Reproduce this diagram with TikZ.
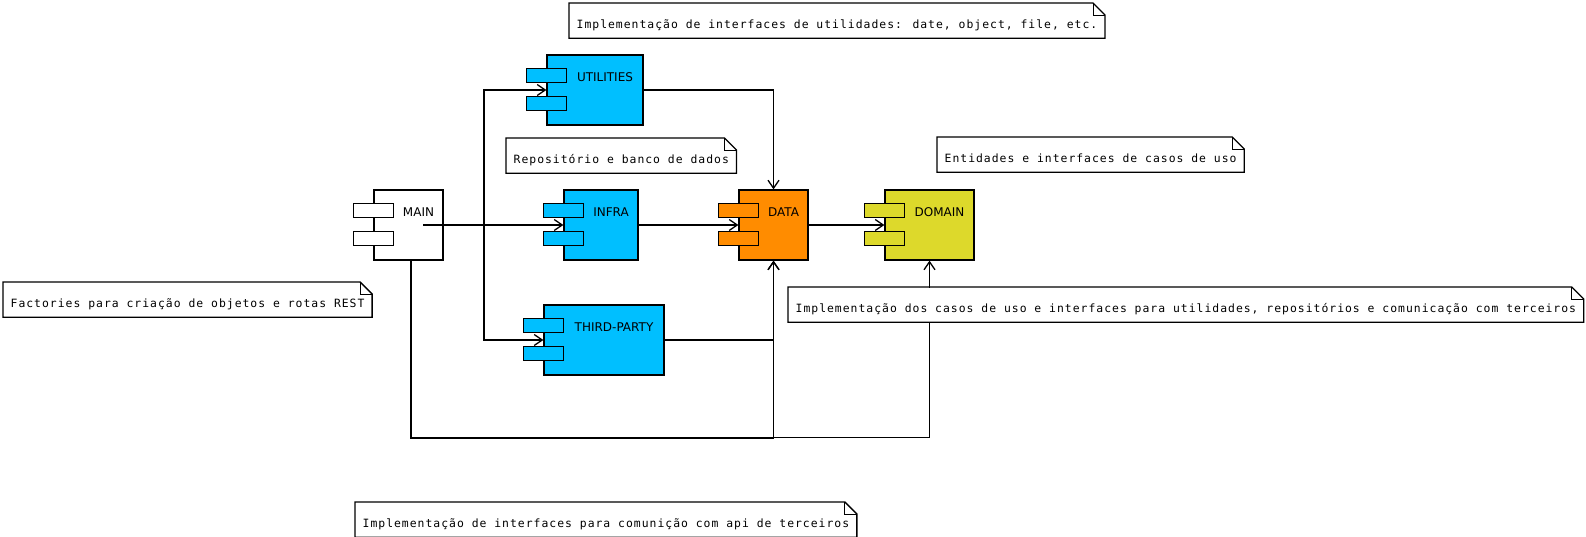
\documentclass[tikz,border=0pt]{standalone}
\usepackage{fontspec}
\setsansfont{DejaVu Sans}
\newfontfamily\notefont[LetterSpace=8.8]{DejaVu Sans Mono}
\usetikzlibrary{arrows.meta,calc}
\definecolor{compblue}{HTML}{00BFFF}
\definecolor{comporange}{HTML}{FF8C00}
\definecolor{compyellow}{HTML}{DDD92B}

\begin{document}
\begin{tikzpicture}[x=1pt,y=-1pt,line width=1.3pt,
            comp node/.style={draw,minimum height=70pt,inner sep=0pt},
            link/.style={-{Straight Barb[length=8pt,width=11pt]}},
            note node/.style={fill=white,anchor=north west,minimum height=34pt,inner xsep=7pt,
                text height=15pt,text depth=0pt,font=\notefont\fontsize{11.4}{13}\selectfont}]

        \useasboundingbox (0,0) rectangle (1586,537);

        % Define vertices
        \node[comp node,fill=white,minimum width=69pt] (main) at (408.5,225) {};
        \node[comp node,fill=compblue,minimum width=96pt] (util) at (595,90) {};
        \node[comp node,fill=compblue,minimum width=74pt] (infra) at (601,225) {};
        \node[comp node,fill=comporange,minimum width=69pt] (data) at (773.5,225) {};
        \node[comp node,fill=compyellow,minimum width=89pt] (domain) at (929.5,225) {};
        \node[comp node,fill=compblue,minimum width=120pt] (third) at (604,340) {};

        % Tabs and labels
        \foreach \n/\c/\t in {main/white/MAIN, util/compblue/UTILITIES, infra/compblue/INFRA,
                data/comporange/DATA, domain/compyellow/DOMAIN, third/compblue/THIRD-PARTY} {
            \draw[fill=\c] ([xshift=-20pt,yshift=-14pt]\n.north west) rectangle ++(40,14);
            \draw[fill=\c] ([xshift=-20pt,yshift=-42pt]\n.north west) rectangle ++(40,14);
            \node[font=\sffamily\fontsize{12}{14}\selectfont]
                at ($([xshift=20pt,yshift=-22.5pt]\n.north west)!.5!([yshift=-22.5pt]\n.north east)$) {\t};
        }

        % Draw edges
        \draw[link] ([xshift=14.5pt]main.center) -- (infra.west);
        \draw[link] ([xshift=14.5pt]main.center) -- ++(61,0) |- (util.west);
        \draw[link] ([xshift=14.5pt]main.center) -- ++(61,0) |- (third.west);
        \draw[link] (util.east) -| (data.north);
        \draw[link] (infra.east) -- (data.west);
        \draw[link] (data.east) -- (domain.west);
        \draw[link] (third.east) -| (data.south);
        \draw[link] ([xshift=2pt]main.south) -- ++(0,178) -| (data.south);
        \draw[link] ([xshift=3pt]main.south) -- ++(0,177) -| (domain.south);

        % Notes
        \node[note node] (nutil) at (569,3) {Implementação de interfaces de utilidades: date, object, file, etc.};
        \node[note node] (nrepo) at (506,138) {Repositório e banco de dados};
        \node[note node] (ndomain) at (937,137) {Entidades e interfaces de casos de uso};
        \node[note node] (nmain) at (3,282) {Factories para criação de objetos e rotas REST};
        \node[note node] (ndata) at (788,287) {Implementação dos casos de uso e interfaces para utilidades, repositórios e comunicação com terceiros};
        \node[note node] (nthird) at (355,502) {Implementação de interfaces para comunição com api de terceiros};

        \foreach \n in {nutil,nrepo,ndomain,nmain,ndata,nthird} {
            \draw ([xshift=-12pt]\n.north east) -- (\n.north west) -- (\n.south west)
                -- (\n.south east) -- ([yshift=-12pt]\n.north east) -- cycle;
            \draw[line width=0.8pt] ([xshift=-12pt]\n.north east) |- ([yshift=-12pt]\n.north east);
        }

        \end{tikzpicture}
\end{document}
